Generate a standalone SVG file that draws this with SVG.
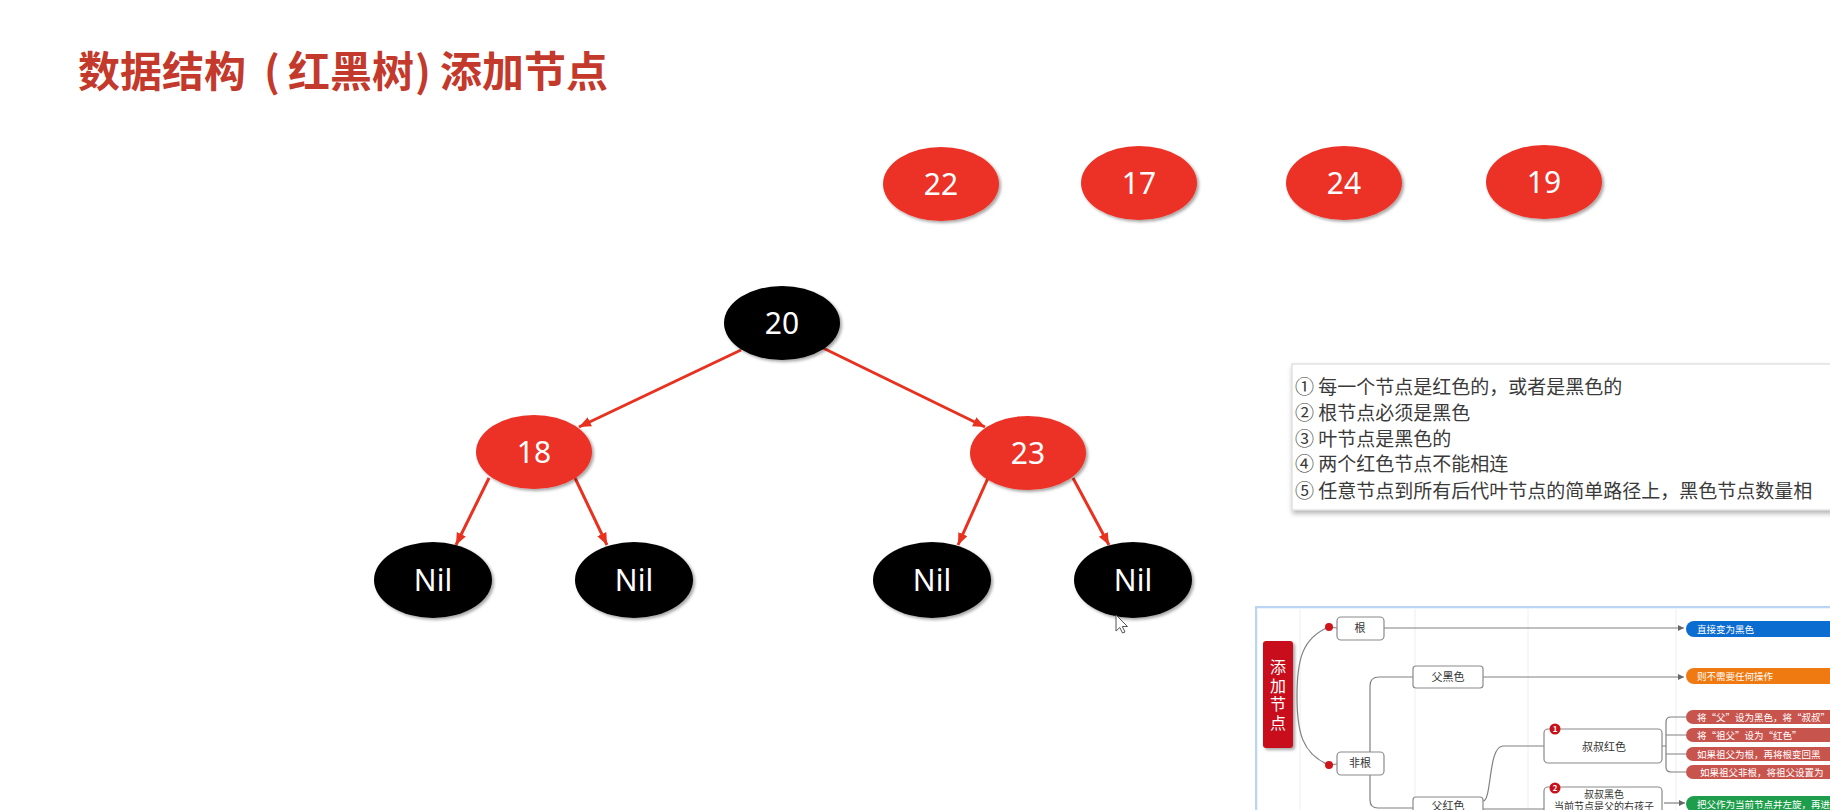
<svg xmlns="http://www.w3.org/2000/svg" width="1830" height="810" viewBox="0 0 1830 810">
<style>
.title{font-family:"Noto Sans CJK SC","Noto Sans",sans-serif;font-weight:bold;font-size:42px;fill:#c3392b}
.red{fill:#ec3225}
.black{fill:#000}
.nt{font-family:"Noto Sans","Open Sans",sans-serif;font-size:30px;fill:#fff;text-anchor:middle}
.edge{stroke:#e8311f;stroke-width:3;fill:none}
.rule{font-family:"Noto Sans CJK SC","Noto Sans",sans-serif;font-size:19px;fill:#3a3a3a}
.mm{font-family:"Noto Sans CJK SC","Noto Sans",sans-serif;font-size:11px;fill:#333;text-anchor:middle}
.pt{font-family:"Noto Sans CJK SC","Noto Sans",sans-serif;font-size:9.5px;fill:#fff}
.box{fill:#fff;stroke:#8a8a8a;stroke-width:1.2}
.ln{stroke:#808080;stroke-width:1.2;fill:none}
.col{stroke:#eeeeee;stroke-width:1}
</style>
<defs>
<marker id="ah" markerUnits="userSpaceOnUse" markerWidth="14" markerHeight="12" refX="12" refY="5" orient="auto">
<path d="M0,0 L12,5 L0,10 z" fill="#e8311f"/>
</marker>
<marker id="gah" markerUnits="userSpaceOnUse" markerWidth="8" markerHeight="8" refX="6" refY="3" orient="auto">
<path d="M0,0 L6,3 L0,6 z" fill="#666"/>
</marker>
<filter id="sh" x="-20%" y="-20%" width="150%" height="150%">
<feDropShadow dx="2" dy="2" stdDeviation="1.5" flood-color="#000" flood-opacity="0.35"/>
</filter>
<filter id="bsh" x="-5%" y="-10%" width="110%" height="130%">
<feDropShadow dx="1" dy="3" stdDeviation="2.5" flood-color="#000" flood-opacity="0.3"/>
</filter>
<clipPath id="mmclip"><rect x="1255" y="606" width="575" height="204"/></clipPath>
</defs>
<rect width="1830" height="810" fill="#fff"/>

<text class="title" y="87"><tspan x="78">数据结构</tspan><tspan x="264">(</tspan><tspan x="288">红黑树</tspan><tspan x="415">)</tspan><tspan x="440">添加节点</tspan></text>

<g id="pending">
<g id="n22"><ellipse class="red" cx="941" cy="184" rx="58" ry="37" filter="url(#sh)"/><text class="nt" x="941" y="195">22</text></g>
<g id="n17"><ellipse class="red" cx="1139" cy="183" rx="58" ry="37" filter="url(#sh)"/><text class="nt" x="1139" y="194">17</text></g>
<g id="n24"><ellipse class="red" cx="1344" cy="183" rx="58" ry="37" filter="url(#sh)"/><text class="nt" x="1344" y="194">24</text></g>
<g id="n19"><ellipse class="red" cx="1544" cy="182" rx="58" ry="37" filter="url(#sh)"/><text class="nt" x="1544" y="193">19</text></g>
</g>

<g id="connectors">
<line class="edge" x1="741" y1="350" x2="579" y2="427" marker-end="url(#ah)"/>
<line class="edge" x1="823" y1="348" x2="985" y2="427" marker-end="url(#ah)"/>
<line class="edge" x1="489" y1="478" x2="456" y2="545" marker-end="url(#ah)"/>
<line class="edge" x1="575" y1="478" x2="607" y2="545" marker-end="url(#ah)"/>
<line class="edge" x1="988" y1="478" x2="958" y2="545" marker-end="url(#ah)"/>
<line class="edge" x1="1073" y1="478" x2="1109" y2="545" marker-end="url(#ah)"/>
</g>

<g id="n20"><ellipse class="black" cx="782" cy="323" rx="58" ry="37" filter="url(#sh)"/><text class="nt" x="782" y="334">20</text></g>
<g id="n18"><ellipse class="red" cx="534" cy="452" rx="58" ry="37" filter="url(#sh)"/><text class="nt" x="534" y="463">18</text></g>
<g id="n23"><ellipse class="red" cx="1028" cy="453" rx="58" ry="37" filter="url(#sh)"/><text class="nt" x="1028" y="464">23</text></g>
<g id="nil1"><ellipse class="black" cx="433" cy="580" rx="59" ry="38" filter="url(#sh)"/><text class="nt" x="433" y="591">Nil</text></g>
<g id="nil2"><ellipse class="black" cx="634" cy="580" rx="59" ry="38" filter="url(#sh)"/><text class="nt" x="634" y="591">Nil</text></g>
<g id="nil3"><ellipse class="black" cx="932" cy="580" rx="59" ry="38" filter="url(#sh)"/><text class="nt" x="932" y="591">Nil</text></g>
<g id="nil4"><ellipse class="black" cx="1133" cy="580" rx="59" ry="38" filter="url(#sh)"/><text class="nt" x="1133" y="591">Nil</text></g>

<path d="M1116,615 L1116,631 L1119.8,627.5 L1122.5,633 L1125,632 L1122.3,626.5 L1127.5,626.5 Z" fill="#fff" stroke="#555" stroke-width="1"/>

<g id="rules">
<rect x="1292" y="364" width="560" height="146" fill="#fff" stroke="#d4d4d4" stroke-width="1" filter="url(#bsh)"/>
<text class="rule" x="1295" y="394">① 每一个节点是红色的，或者是黑色的</text>
<text class="rule" x="1295" y="420">② 根节点必须是黑色</text>
<text class="rule" x="1295" y="446">③ 叶节点是黑色的</text>
<text class="rule" x="1295" y="471">④ 两个红色节点不能相连</text>
<text class="rule" x="1295" y="498">⑤ 任意节点到所有后代叶节点的简单路径上，黑色节点数量相</text>
</g>

<g id="mindmap" clip-path="url(#mmclip)">
<rect x="1256" y="607" width="600" height="220" fill="#fff" stroke="#b9d5f3" stroke-width="2.5"/>
<line class="col" x1="1300" y1="609" x2="1300" y2="810"/>
<line class="col" x1="1415" y1="609" x2="1415" y2="810"/>
<line class="col" x1="1528" y1="609" x2="1528" y2="810"/>
<line class="col" x1="1676" y1="609" x2="1676" y2="810"/>

<g id="mm-lines">
<path class="ln" d="M1329,627 C1302,638 1297,660 1297,696 C1297,732 1302,754 1329,765"/>
<line class="ln" x1="1329" y1="627" x2="1337" y2="628"/>
<line class="ln" x1="1329" y1="765" x2="1337" y2="764"/>
<line class="ln" x1="1384" y1="628" x2="1684" y2="628" marker-end="url(#gah)"/>
<path class="ln" d="M1370,752 L1370,686 Q1370,677 1379,677 L1413,677"/>
<line class="ln" x1="1483" y1="677" x2="1684" y2="677" marker-end="url(#gah)"/>
<path class="ln" d="M1370,775 L1370,800 Q1370,808 1378,808 L1413,808"/>
<path class="ln" d="M1483,801 C1492,801 1488,746 1503,746 L1544,746"/>
<line class="ln" x1="1483" y1="809" x2="1544" y2="809"/>
<path class="ln" d="M1662,746 L1666,746 M1686,717 L1671,717 Q1666,717 1666,722 L1666,767 Q1666,772 1671,772 L1686,772 M1666,735 L1686,735 M1666,754 L1686,754"/>
<line class="ln" x1="1664" y1="803" x2="1685" y2="803" marker-end="url(#gah)"/>
</g>

<g id="mm-root">
<rect x="1263" y="641" width="30" height="107" rx="3" fill="#c8111a" filter="url(#sh)"/>
<text x="1278" y="659" style="writing-mode:vertical-rl;font-family:'Noto Sans CJK SC','Noto Sans',sans-serif;font-size:16px;fill:#fff;letter-spacing:2.5px">添加节点</text>
</g>
<circle cx="1329" cy="627" r="4" fill="#d0141a"/>
<circle cx="1329" cy="765" r="4" fill="#d0141a"/>

<g id="mm-gen"><rect class="box" x="1337" y="617" width="47" height="23" rx="4"/><text class="mm" x="1360" y="632">根</text></g>
<g id="mm-feigen"><rect class="box" x="1337" y="752" width="47" height="23" rx="4"/><text class="mm" x="1360" y="767">非根</text></g>
<g id="mm-fuhei"><rect class="box" x="1413" y="666" width="70" height="22" rx="3"/><text class="mm" x="1448" y="681">父黑色</text></g>
<g id="mm-fuhong"><rect class="box" x="1413" y="797" width="70" height="24" rx="3"/><text class="mm" x="1448" y="810">父红色</text></g>
<g id="mm-shuhong"><rect class="box" x="1544" y="729" width="118" height="34" rx="4"/><text class="mm" x="1604" y="751">叔叔红色</text>
<circle cx="1555" cy="729" r="5.5" fill="#c8111a"/><text class="mm" x="1555" y="732" style="fill:#fff;font-size:8px;font-weight:bold">1</text></g>
<g id="mm-shuhei"><rect class="box" x="1544" y="787" width="118" height="40" rx="4"/><text class="mm" x="1604" y="798" style="font-size:10px">叔叔黑色</text><text class="mm" x="1604" y="810" style="font-size:10px">当前节点是父的右孩子</text>
<circle cx="1555" cy="788" r="5.5" fill="#c8111a"/><text class="mm" x="1555" y="791" style="fill:#fff;font-size:8px;font-weight:bold">2</text></g>

<g id="mm-p1"><rect x="1686" y="621" width="170" height="16" rx="8" fill="#0b6dd0"/><text class="pt" x="1697" y="633">直接变为黑色</text></g>
<g id="mm-p2"><rect x="1686" y="668" width="170" height="16" rx="8" fill="#f07a12"/><text class="pt" x="1697" y="680">则不需要任何操作</text></g>
<g id="mm-p3"><rect x="1686" y="710" width="170" height="14" rx="7" fill="#c8544e"/><text class="pt" x="1697" y="721">将“父”设为黑色，将“叔叔”</text></g>
<g id="mm-p4"><rect x="1686" y="728" width="170" height="14" rx="7" fill="#c8544e"/><text class="pt" x="1697" y="739">将“祖父”设为“红色”</text></g>
<g id="mm-p5"><rect x="1686" y="747" width="170" height="14" rx="7" fill="#c8544e"/><text class="pt" x="1697" y="758">如果祖父为根，再将根变回黑</text></g>
<g id="mm-p6"><rect x="1686" y="765" width="170" height="14" rx="7" fill="#c8544e"/><text class="pt" x="1700" y="776">如果祖父非根，将祖父设置为</text></g>
<g id="mm-p7"><rect x="1686" y="796" width="170" height="16" rx="8" fill="#1e9e4c"/><text class="pt" x="1697" y="808">把父作为当前节点并左旋，再进</text></g>
</g>
</svg>
